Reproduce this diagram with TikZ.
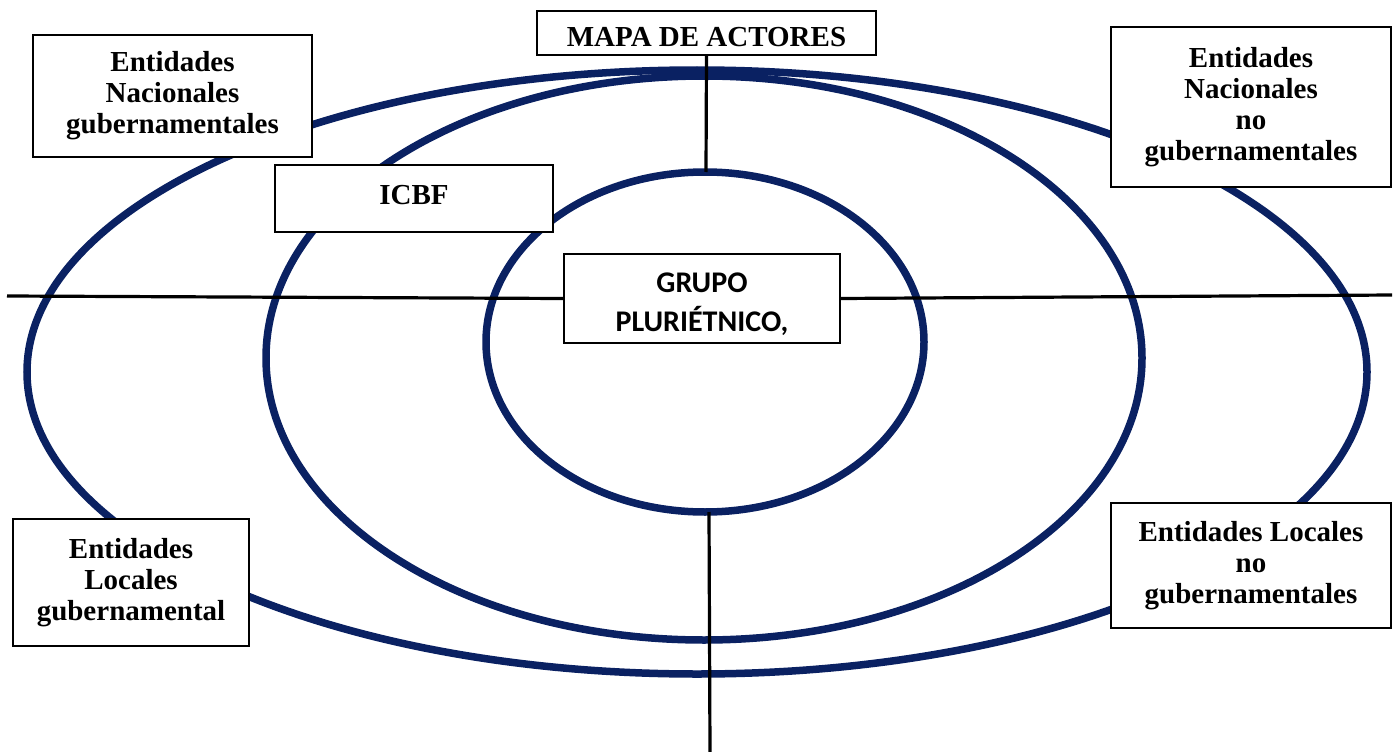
\documentclass[tikz,border=0pt]{standalone}
\usepackage{fontspec}
\setmainfont{Liberation Serif}
\newfontfamily\calfont{Carlito}
\newcommand\lowerby[2]{\raisebox{-#1}[\height][\depth]{#2}}
\definecolor{navy}{RGB}{10,33,98}
\tikzset{
  ring/.style={draw=navy, line width=7.5pt},
  axis/.style={draw=black, line width=3.2pt},
  lbl/.style={draw=black, line width=1.8pt, fill=white, align=center, inner sep=0pt,
    font=\fontsize{29}{31}\selectfont\bfseries},
}
\begin{document}
\begin{tikzpicture}[x=1pt,y=-1pt]
\useasboundingbox (0,0) rectangle (1395,752);
% ellipses
\draw[ring] (697,372) ellipse [x radius=670, y radius=302];
\draw[ring] (704,358) ellipse [x radius=438, y radius=282];
\draw[ring] (705,342) ellipse [x radius=219, y radius=170];
% free ends and ellipse contact points
\coordinate (hl) at (7,296);
\coordinate (hr) at (1392,295);
\coordinate (itop) at (706,172);
\coordinate (ibot) at (709,512);
\coordinate (vend) at (710,752);
% boxes
\node[lbl, minimum width=339, minimum height=44] (mapa) at (706.5,33) {\lowerby{4pt}{MAPA DE ACTORES}};
\node[lbl, minimum width=276, minimum height=89, font=\calfont\fontsize{30}{39}\selectfont\bfseries] (grupo) at (702,298.5) {\lowerby{6pt}{GRUPO}\\\lowerby{6pt}{PLURIÉTNICO,}};
\node[lbl, minimum width=279, minimum height=122] (eng) at (172.5,96) {Entidades\\Nacionales\\gubernamentales};
\node[lbl, minimum width=280, minimum height=160] (ennog) at (1251,107) {Entidades\\Nacionales\\no\\gubernamentales};
\node[lbl, minimum width=278, minimum height=67] (icbf) at (414,198.5) {\lowerby{-3pt}{ICBF}};
\node[lbl, minimum width=236, minimum height=127] (elg) at (131,582.5) {Entidades\\Locales\\gubernamental};
\node[lbl, minimum width=280, minimum height=125] (elnog) at (1251,565.5) {Entidades Locales\\no\\gubernamentales};
% axes
\draw[axis] (hl) -- (grupo.west);
\draw[axis] (grupo.east) -- (hr);
\draw[axis] (mapa.south) -- (itop);
\draw[axis] (ibot) -- (vend);
\end{tikzpicture}
\end{document}
